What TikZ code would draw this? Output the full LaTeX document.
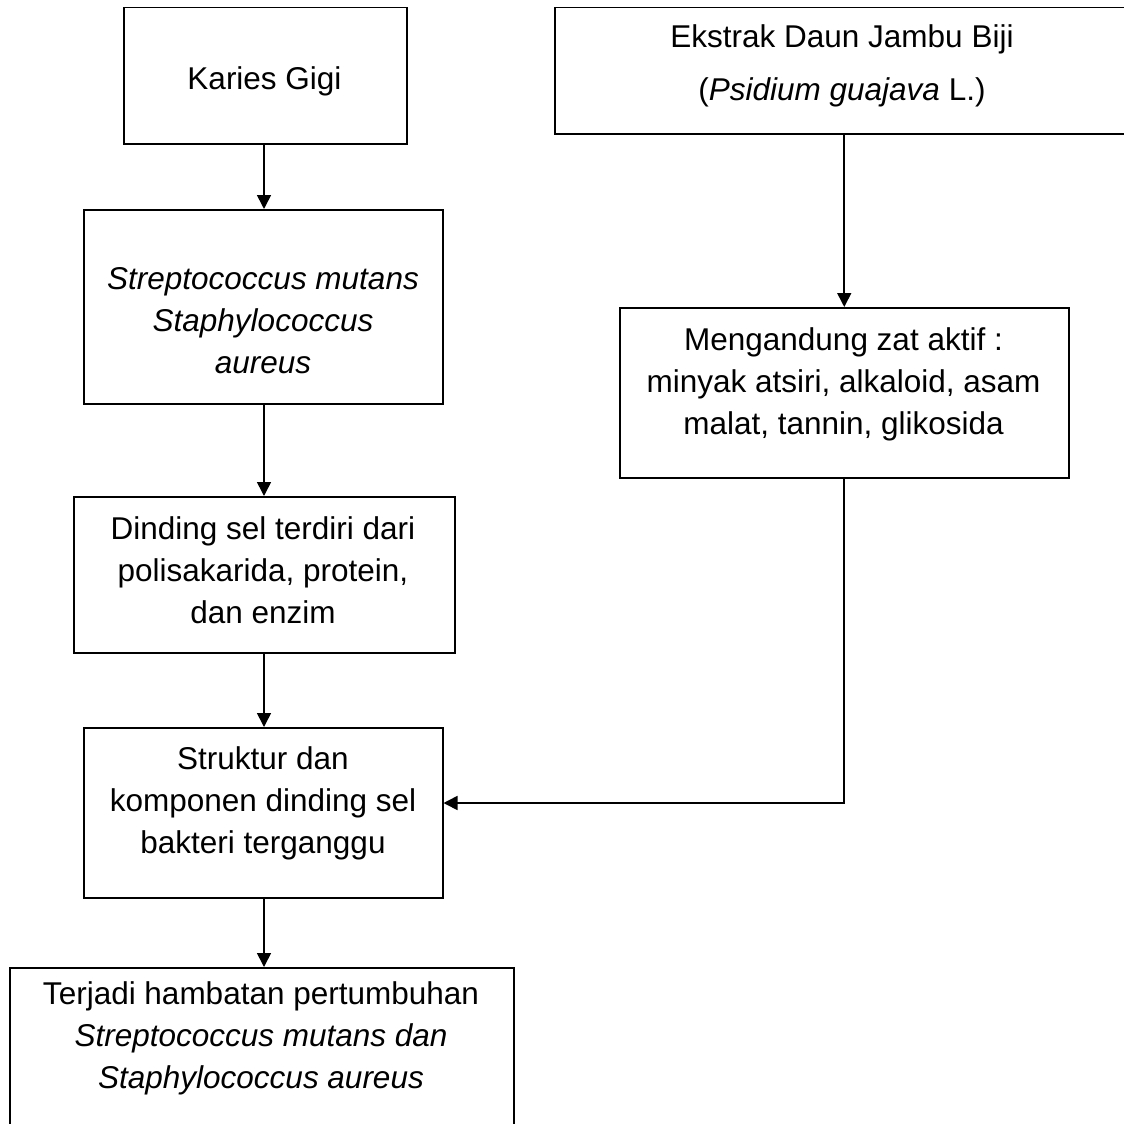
\documentclass[tikz,border=0pt]{standalone}
\usepackage{fontspec}
\setmainfont{Liberation Sans}
\usetikzlibrary{arrows.meta}
\begin{document}
\begin{tikzpicture}[x=1pt,y=-1pt,
  box/.style={draw, line width=1.5pt, inner sep=0pt, anchor=north west},
  lbl/.style={align=center, inner sep=0pt, font=\fontsize{31.5}{42}\selectfont},
  arr/.style={-{Triangle[length=14pt,width=14pt]}, line width=1.6pt}]
\useasboundingbox (0,0) rectangle (1124,1124);
\clip (0,0) rectangle (1124,1124);
% boxes
\node[box, minimum width=283pt, minimum height=136pt] (b1) at (123,7) {};
\node[box, minimum width=576pt, minimum height=126pt] (b2) at (554,7) {};
\node[box, minimum width=359pt, minimum height=194pt] (b3) at (83,209) {};
\node[box, minimum width=449pt, minimum height=170pt] (b4) at (619,307) {};
\node[box, minimum width=381pt, minimum height=156pt] (b5) at (73,496) {};
\node[box, minimum width=359pt, minimum height=170pt] (b6) at (83,727) {};
\node[box, minimum width=504pt, minimum height=200pt] (b7) at (9,967) {};
% labels
\node[lbl] (l1) at (264.5,81) {Karies Gigi};
\node[lbl, font=\fontsize{31.5}{53}\selectfont] (l2) at (842,66) {Ekstrak Daun Jambu Biji\\(\textit{Psidium guajava} L.)};
\node[lbl, font=\fontsize{31.5}{42}\selectfont\itshape] (l3) at (263,321) {Streptococcus mutans\\Staphylococcus\\aureus};
\node[lbl] (l4) at (843.5,384) {Mengandung zat aktif :\\minyak atsiri, alkaloid, asam\\malat, tannin, glikosida};
\node[lbl] (l5) at (263,570) {Dinding sel terdiri dari\\polisakarida, protein,\\dan enzim};
\node[lbl] (l6) at (263,803) {Struktur dan\\komponen dinding sel\\bakteri terganggu};
\node[lbl] (l7) at (261,1038) {Terjadi hambatan pertumbuhan\\\textit{Streptococcus mutans dan}\\\textit{Staphylococcus aureus}};
% connectors
\coordinate (a1) at (264,143);
\draw[arr] (a1) -- (a1 |- b3.north);
\coordinate (a2) at (264,403);
\draw[arr] (a2) -- (a2 |- b5.north);
\coordinate (a3) at (264,652);
\draw[arr] (a3) -- (a3 |- b6.north);
\coordinate (a4) at (264,897);
\draw[arr] (a4) -- (a4 |- b7.north);
\draw[arr] (b4.north |- b2.south) -- (b4.north);
\coordinate (j) at (b4.south |- 0,803);
\draw[arr] (b4.south) -- (j) -- (j -| b6.east);
\end{tikzpicture}
\end{document}
